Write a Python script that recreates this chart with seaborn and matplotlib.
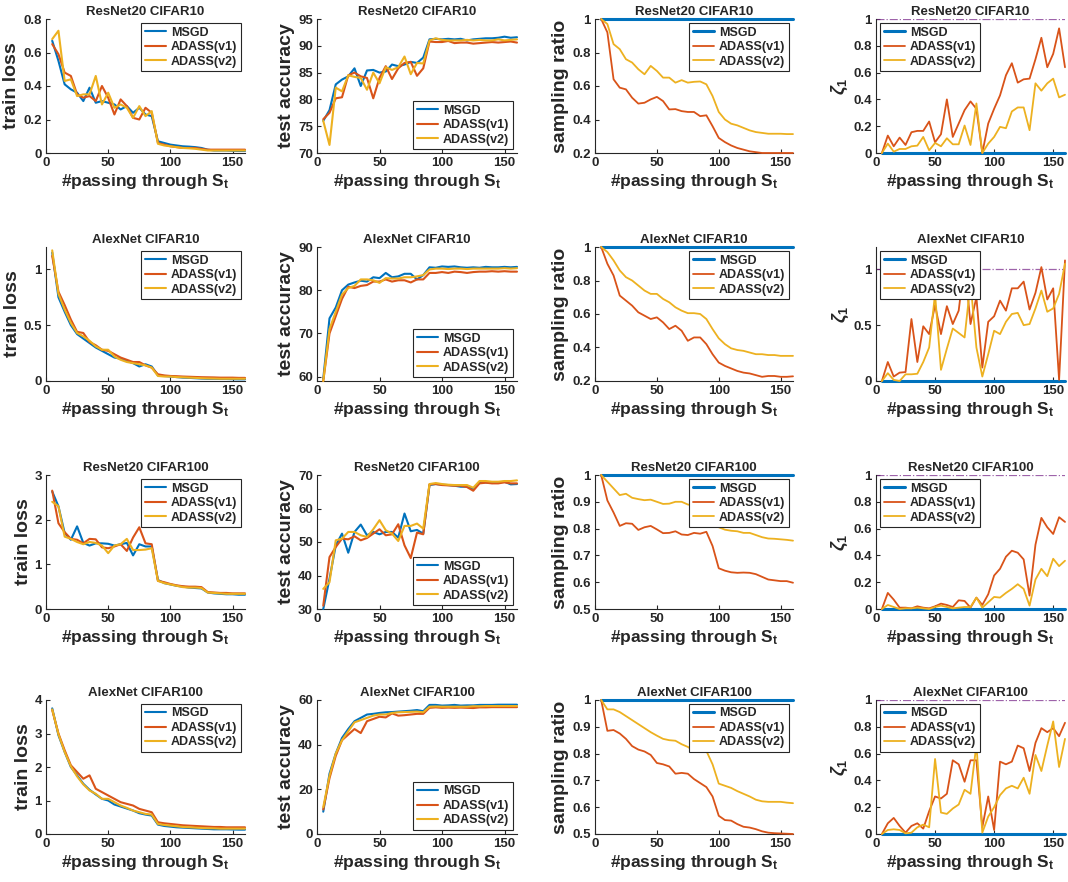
import pandas as pd
import seaborn as sns
from matplotlib import pyplot as plt
from matplotlib.ticker import FuncFormatter

# passes through S_t (x axis of every panel)
passes = list(range(5, 165, 5))

methods = ['MSGD', 'ADASS(v1)', 'ADASS(v2)']
colors = ['#0072BD', '#D95319', '#EDB120']
titles = ['ResNet20 CIFAR10', 'AlexNet CIFAR10', 'ResNet20 CIFAR100', 'AlexNet CIFAR100']
ylabels = ['train loss', 'test accuracy', 'sampling ratio', r'$\zeta_1$']
zeta_ref = 1.0

# ---- ResNet20 CIFAR10 ----
r20c10_loss_msgd = [0.67, 0.55, 0.41, 0.38, 0.36, 0.31, 0.39, 0.30, 0.31, 0.30, 0.29, 0.26, 0.28, 0.24, 0.27, 0.23,
                    0.22, 0.07, 0.06, 0.05, 0.045, 0.04, 0.038, 0.035, 0.03, 0.02, 0.015, 0.015, 0.015, 0.013, 0.012, 0.012]
r20c10_loss_v1 = [0.65, 0.59, 0.48, 0.46, 0.35, 0.33, 0.34, 0.31, 0.40, 0.33, 0.23, 0.32, 0.28, 0.21, 0.20, 0.27,
                  0.24, 0.06, 0.05, 0.04, 0.035, 0.03, 0.03, 0.03, 0.025, 0.02, 0.02, 0.02, 0.02, 0.02, 0.02, 0.02]
r20c10_loss_v2 = [0.68, 0.73, 0.43, 0.44, 0.34, 0.35, 0.35, 0.46, 0.29, 0.36, 0.27, 0.29, 0.27, 0.21, 0.28, 0.22,
                  0.25, 0.055, 0.045, 0.04, 0.035, 0.03, 0.028, 0.025, 0.02, 0.015, 0.015, 0.015, 0.015, 0.015, 0.015, 0.015]
r20c10_acc_msgd = [76.0, 78.0, 82.8, 83.7, 84.3, 85.8, 82.5, 85.4, 85.5, 85.0, 85.2, 86.5, 86.2, 86.5, 87.0, 86.8,
                   87.8, 91.2, 91.3, 91.2, 91.3, 91.2, 91.3, 91.0, 91.2, 91.3, 91.4, 91.4, 91.5, 91.7, 91.5, 91.6]
r20c10_acc_v1 = [76.3, 77.5, 80.2, 80.4, 84.5, 85.0, 84.3, 84.0, 80.2, 84.0, 86.2, 83.8, 85.8, 86.8, 87.0, 84.4,
                 85.8, 90.8, 90.7, 90.7, 90.9, 90.5, 90.6, 90.6, 90.4, 90.5, 90.6, 90.7, 90.6, 90.7, 90.8, 90.6]
r20c10_acc_v2 = [76.0, 71.5, 82.2, 81.5, 84.5, 84.2, 84.0, 81.8, 85.0, 83.0, 86.0, 85.5, 86.0, 88.0, 84.7, 86.8,
                 86.7, 91.0, 91.4, 91.1, 91.0, 91.0, 91.0, 91.1, 91.0, 91.1, 91.0, 91.0, 91.2, 91.0, 91.1, 91.2]
r20c10_ratio_msgd = [1.0] * 32
r20c10_ratio_v1 = [1.0, 0.92, 0.64, 0.59, 0.58, 0.53, 0.495, 0.50, 0.52, 0.535, 0.51, 0.46, 0.462, 0.45, 0.445, 0.445,
                   0.42, 0.425, 0.36, 0.29, 0.265, 0.245, 0.23, 0.22, 0.21, 0.205, 0.2, 0.2, 0.2, 0.2, 0.2, 0.2]
r20c10_ratio_v2 = [1.0, 0.97, 0.85, 0.82, 0.76, 0.74, 0.70, 0.67, 0.72, 0.69, 0.65, 0.65, 0.62, 0.635, 0.62, 0.625,
                   0.627, 0.61, 0.54, 0.445, 0.40, 0.375, 0.365, 0.35, 0.335, 0.325, 0.32, 0.315, 0.315, 0.315, 0.313, 0.313]
r20c10_zeta_msgd = [0.0] * 32
r20c10_zeta_v1 = [0.0, 0.13, 0.05, 0.115, 0.06, 0.155, 0.165, 0.165, 0.235, 0.08, 0.14, 0.40, 0.12, 0.22, 0.32, 0.385,
                  0.33, 0.0, 0.22, 0.33, 0.43, 0.58, 0.67, 0.525, 0.55, 0.555, 0.70, 0.86, 0.64, 0.74, 0.93, 0.64]
r20c10_zeta_v2 = [0.0, 0.07, 0.01, 0.03, 0.03, 0.05, 0.055, 0.12, 0.02, 0.075, 0.05, 0.11, 0.065, 0.065, 0.205, 0.06,
                  0.37, 0.0, 0.07, 0.12, 0.195, 0.185, 0.31, 0.34, 0.34, 0.17, 0.52, 0.465, 0.52, 0.555, 0.415, 0.435]

# ---- AlexNet CIFAR10 ----
ax10_loss_msgd = [1.15, 0.75, 0.62, 0.50, 0.42, 0.38, 0.34, 0.30, 0.27, 0.24, 0.21, 0.20, 0.18, 0.16, 0.13, 0.15,
                  0.13, 0.05, 0.045, 0.04, 0.035, 0.03, 0.028, 0.025, 0.022, 0.02, 0.02, 0.018, 0.018, 0.016, 0.015, 0.015]
ax10_loss_v1 = [1.12, 0.80, 0.68, 0.55, 0.44, 0.43, 0.35, 0.32, 0.28, 0.27, 0.24, 0.21, 0.19, 0.17, 0.17, 0.14,
                0.12, 0.06, 0.05, 0.045, 0.043, 0.04, 0.038, 0.036, 0.034, 0.033, 0.032, 0.03, 0.03, 0.03, 0.028, 0.028]
ax10_loss_v2 = [1.17, 0.78, 0.64, 0.52, 0.43, 0.40, 0.36, 0.31, 0.28, 0.28, 0.22, 0.19, 0.17, 0.16, 0.15, 0.14,
                0.12, 0.045, 0.04, 0.04, 0.035, 0.033, 0.03, 0.028, 0.025, 0.023, 0.022, 0.02, 0.02, 0.02, 0.02, 0.02]
ax10_acc_msgd = [59.5, 73.5, 76.0, 80.0, 81.3, 81.8, 82.2, 82.0, 83.0, 82.8, 84.0, 83.0, 83.2, 83.8, 83.8, 82.5,
                 83.5, 85.3, 85.2, 85.5, 85.4, 85.5, 85.3, 85.2, 85.3, 85.2, 85.4, 85.3, 85.3, 85.4, 85.3, 85.4]
ax10_acc_v1 = [59.0, 70.0, 74.0, 78.0, 80.8, 80.5, 81.0, 81.2, 82.0, 82.0, 82.5, 82.0, 82.3, 82.3, 81.8, 82.5,
               82.5, 84.0, 84.0, 84.2, 84.0, 84.3, 84.2, 84.0, 84.2, 84.3, 84.3, 84.4, 84.3, 84.4, 84.3, 84.3]
ax10_acc_v2 = [59.0, 71.0, 75.0, 79.0, 80.5, 81.0, 82.5, 82.5, 82.3, 81.7, 82.8, 82.7, 82.7, 83.0, 83.0, 83.2,
               83.5, 84.8, 85.0, 85.0, 84.9, 85.0, 85.0, 84.9, 85.0, 85.0, 85.0, 85.0, 85.0, 85.1, 85.0, 85.1]
ax10_ratio_msgd = [1.0] * 32
ax10_ratio_v1 = [1.0, 0.90, 0.83, 0.71, 0.68, 0.65, 0.61, 0.59, 0.57, 0.58, 0.55, 0.51, 0.53, 0.50, 0.44, 0.46,
                 0.46, 0.42, 0.36, 0.31, 0.29, 0.275, 0.26, 0.25, 0.245, 0.235, 0.225, 0.23, 0.23, 0.225, 0.225, 0.228]
ax10_ratio_v2 = [1.0, 0.97, 0.92, 0.86, 0.82, 0.80, 0.77, 0.74, 0.72, 0.72, 0.69, 0.67, 0.64, 0.62, 0.605, 0.605,
                 0.60, 0.57, 0.51, 0.455, 0.42, 0.395, 0.385, 0.38, 0.37, 0.36, 0.36, 0.355, 0.355, 0.35, 0.35, 0.35]
ax10_zeta_msgd = [0.0] * 32
ax10_zeta_v1 = [0.0, 0.17, 0.04, 0.075, 0.08, 0.555, 0.17, 0.49, 0.42, 0.68, 0.42, 0.67, 0.51, 0.63, 1.07, 0.51,
                0.75, 0.12, 0.53, 0.58, 0.72, 0.63, 0.83, 0.83, 0.89, 0.64, 0.79, 1.02, 0.73, 0.83, 0.01, 1.08]
ax10_zeta_v2 = [0.0, 0.07, 0.01, 0.0, 0.06, 0.06, 0.065, 0.17, 0.30, 0.78, 0.10, 0.29, 0.47, 0.43, 0.39, 0.88,
                0.30, 0.04, 0.24, 0.45, 0.42, 0.53, 0.60, 0.61, 0.50, 0.51, 0.65, 0.81, 0.62, 0.65, 0.78, 1.05]

# ---- ResNet20 CIFAR100 ----
r20c100_loss_msgd = [2.63, 2.3, 1.7, 1.55, 1.85, 1.48, 1.42, 1.47, 1.47, 1.46, 1.42, 1.45, 1.48, 1.2, 1.45, 1.4,
                     1.4, 0.65, 0.58, 0.55, 0.52, 0.5, 0.48, 0.47, 0.46, 0.37, 0.35, 0.34, 0.33, 0.33, 0.32, 0.32]
r20c100_loss_v1 = [2.65, 1.92, 1.72, 1.57, 1.55, 1.47, 1.57, 1.56, 1.38, 1.36, 1.4, 1.45, 1.3, 1.6, 1.83, 1.47,
                   1.45, 0.63, 0.6, 0.56, 0.53, 0.51, 0.5, 0.5, 0.49, 0.38, 0.37, 0.36, 0.36, 0.35, 0.35, 0.35]
r20c100_loss_v2 = [2.4, 2.3, 1.62, 1.57, 1.5, 1.45, 1.5, 1.48, 1.42, 1.25, 1.42, 1.45, 1.57, 1.32, 1.32, 1.33,
                   1.36, 0.63, 0.58, 0.55, 0.52, 0.49, 0.48, 0.48, 0.47, 0.37, 0.36, 0.35, 0.34, 0.34, 0.34, 0.34]
r20c100_acc_msgd = [30.0, 39.0, 49.0, 52.5, 46.8, 53.0, 55.2, 52.0, 53.0, 52.3, 53.0, 53.0, 51.3, 58.5, 53.2, 53.6,
                    52.5, 67.0, 67.3, 67.1, 67.0, 66.8, 66.5, 66.5, 65.8, 67.8, 67.8, 67.6, 67.8, 68.0, 67.2, 67.3]
r20c100_acc_v1 = [31.0, 45.5, 48.5, 51.0, 50.8, 51.7, 50.5, 51.2, 52.5, 53.8, 52.0, 52.3, 55.3, 49.0, 45.2, 52.8,
                  52.3, 67.2, 67.3, 67.0, 66.9, 66.8, 66.8, 66.4, 65.3, 67.5, 67.7, 67.5, 67.5, 67.8, 67.5, 67.5]
r20c100_acc_v2 = [36.0, 38.0, 50.5, 51.0, 53.0, 53.0, 52.0, 51.5, 53.8, 56.5, 53.5, 52.5, 50.3, 54.8, 54.8, 55.5,
                  54.0, 67.3, 67.6, 67.3, 67.1, 67.0, 67.0, 67.0, 66.2, 68.2, 68.2, 68.0, 68.0, 68.2, 68.2, 68.4]
r20c100_ratio_msgd = [1.0] * 32
r20c100_ratio_v1 = [1.0, 0.905, 0.86, 0.81, 0.82, 0.818, 0.795, 0.805, 0.81, 0.797, 0.783, 0.784, 0.79, 0.778, 0.776, 0.784,
                    0.781, 0.788, 0.735, 0.652, 0.643, 0.637, 0.635, 0.636, 0.635, 0.63, 0.62, 0.61, 0.607, 0.604, 0.604, 0.598]
r20c100_ratio_v2 = [1.0, 0.975, 0.95, 0.925, 0.93, 0.915, 0.91, 0.906, 0.908, 0.9, 0.892, 0.893, 0.9, 0.9, 0.89, 0.885,
                    0.895, 0.896, 0.86, 0.805, 0.796, 0.792, 0.79, 0.784, 0.784, 0.776, 0.768, 0.763, 0.762, 0.76, 0.758, 0.755]
r20c100_zeta_msgd = [0.0] * 32
r20c100_zeta_v1 = [0.0, 0.12, 0.07, 0.01, 0.01, 0.005, 0.02, 0.01, 0.005, 0.02, 0.04, 0.03, 0.015, 0.065, 0.06, 0.01,
                   0.085, 0.03, 0.11, 0.25, 0.3, 0.39, 0.435, 0.42, 0.37, 0.10, 0.48, 0.68, 0.61, 0.56, 0.685, 0.65]
r20c100_zeta_v2 = [0.0, 0.03, 0.015, 0.0, 0.005, 0.005, 0.01, 0.005, 0.0, 0.015, 0.025, 0.015, 0.005, 0.01, 0.015, 0.015,
                   0.085, 0.01, 0.05, 0.09, 0.085, 0.12, 0.15, 0.185, 0.15, 0.025, 0.22, 0.30, 0.245, 0.375, 0.32, 0.36]

# ---- AlexNet CIFAR100 ----
ax100_loss_msgd = [3.75, 2.95, 2.45, 2.0, 1.75, 1.5, 1.32, 1.18, 1.05, 1.0, 0.88, 0.82, 0.76, 0.7, 0.62, 0.58,
                   0.55, 0.28, 0.24, 0.22, 0.2, 0.19, 0.18, 0.17, 0.16, 0.15, 0.14, 0.14, 0.14, 0.135, 0.13, 0.13]
ax100_loss_v1 = [3.7, 3.0, 2.5, 2.05, 1.85, 1.65, 1.75, 1.35, 1.25, 1.15, 1.05, 0.95, 0.9, 0.85, 0.75, 0.7,
                 0.65, 0.35, 0.32, 0.3, 0.28, 0.26, 0.25, 0.24, 0.23, 0.22, 0.21, 0.21, 0.2, 0.2, 0.2, 0.2]
ax100_loss_v2 = [3.72, 2.98, 2.45, 2.02, 1.72, 1.48, 1.3, 1.2, 1.05, 1.05, 0.95, 0.85, 0.78, 0.7, 0.65, 0.6,
                 0.58, 0.3, 0.27, 0.25, 0.23, 0.21, 0.2, 0.19, 0.18, 0.17, 0.17, 0.16, 0.16, 0.16, 0.16, 0.16]
ax100_acc_msgd = [10.0, 27.0, 36.0, 43.0, 47.0, 50.5, 52.0, 53.5, 53.8, 54.2, 54.5, 54.6, 54.8, 55.0, 55.2, 55.5,
                  55.0, 57.8, 57.8, 57.5, 57.6, 57.8, 57.5, 57.6, 57.6, 57.8, 57.8, 57.8, 57.9, 57.9, 57.9, 57.9]
ax100_acc_v1 = [11.0, 25.0, 35.0, 42.0, 44.5, 47.0, 45.2, 50.5, 51.5, 52.5, 52.2, 54.0, 53.0, 53.2, 53.5, 53.8,
                53.8, 56.5, 56.7, 56.5, 56.6, 56.5, 56.6, 56.5, 56.4, 56.7, 56.7, 56.8, 56.8, 56.8, 56.8, 56.8]
ax100_acc_v2 = [12.0, 26.0, 36.0, 42.0, 46.0, 50.0, 51.0, 52.0, 53.0, 53.5, 53.5, 54.2, 54.5, 54.6, 54.7, 54.8,
                54.5, 57.0, 57.1, 57.0, 57.0, 57.0, 57.0, 57.0, 57.2, 57.2, 57.3, 57.3, 57.3, 57.3, 57.3, 57.3]
ax100_ratio_msgd = [1.0] * 32
ax100_ratio_v1 = [1.0, 0.885, 0.888, 0.875, 0.855, 0.828, 0.815, 0.808, 0.795, 0.765, 0.76, 0.752, 0.725, 0.728, 0.725, 0.705,
                  0.69, 0.675, 0.64, 0.568, 0.552, 0.55, 0.537, 0.527, 0.524, 0.518, 0.51, 0.505, 0.503, 0.502, 0.501, 0.5]
ax100_ratio_v2 = [1.0, 0.965, 0.965, 0.955, 0.94, 0.925, 0.91, 0.895, 0.88, 0.867, 0.855, 0.85, 0.848, 0.835, 0.825, 0.81,
                  0.808, 0.81, 0.76, 0.688, 0.68, 0.672, 0.66, 0.65, 0.64, 0.628, 0.622, 0.62, 0.62, 0.62, 0.617, 0.615]
ax100_zeta_msgd = [0.0] * 32
ax100_zeta_v1 = [0.0, 0.08, 0.12, 0.06, 0.01, 0.06, 0.08, 0.04, 0.17, 0.28, 0.265, 0.30, 0.55, 0.52, 0.39, 0.55,
                 0.55, 0.05, 0.28, 0.03, 0.54, 0.52, 0.54, 0.66, 0.64, 0.47, 0.68, 0.79, 0.76, 0.79, 0.73, 0.83]
ax100_zeta_v2 = [0.0, 0.03, 0.035, 0.03, 0.005, 0.01, 0.05, 0.07, 0.05, 0.56, 0.16, 0.15, 0.19, 0.22, 0.33, 0.30,
                 0.67, 0.01, 0.13, 0.20, 0.29, 0.34, 0.36, 0.34, 0.42, 0.30, 0.59, 0.47, 0.66, 0.84, 0.50, 0.71]

grid = [
    [(r20c10_loss_msgd, r20c10_loss_v1, r20c10_loss_v2), (r20c10_acc_msgd, r20c10_acc_v1, r20c10_acc_v2),
     (r20c10_ratio_msgd, r20c10_ratio_v1, r20c10_ratio_v2), (r20c10_zeta_msgd, r20c10_zeta_v1, r20c10_zeta_v2)],
    [(ax10_loss_msgd, ax10_loss_v1, ax10_loss_v2), (ax10_acc_msgd, ax10_acc_v1, ax10_acc_v2),
     (ax10_ratio_msgd, ax10_ratio_v1, ax10_ratio_v2), (ax10_zeta_msgd, ax10_zeta_v1, ax10_zeta_v2)],
    [(r20c100_loss_msgd, r20c100_loss_v1, r20c100_loss_v2), (r20c100_acc_msgd, r20c100_acc_v1, r20c100_acc_v2),
     (r20c100_ratio_msgd, r20c100_ratio_v1, r20c100_ratio_v2), (r20c100_zeta_msgd, r20c100_zeta_v1, r20c100_zeta_v2)],
    [(ax100_loss_msgd, ax100_loss_v1, ax100_loss_v2), (ax100_acc_msgd, ax100_acc_v1, ax100_acc_v2),
     (ax100_ratio_msgd, ax100_ratio_v1, ax100_ratio_v2), (ax100_zeta_msgd, ax100_zeta_v1, ax100_zeta_v2)],
]

# y limits / ticks per row, per column
ylims = [
    [(0, 0.8), (70, 95), (0.2, 1), (0, 1)],
    [(0, 1.2), (59, 90), (0.2, 1), (0, 1.2)],
    [(0, 3), (30, 70), (0.5, 1), (0, 1)],
    [(0, 4), (0, 60), (0.5, 1), (0, 1)],
]
yticks = [
    [[0, 0.2, 0.4, 0.6, 0.8], [70, 75, 80, 85, 90, 95], [0.2, 0.4, 0.6, 0.8, 1], [0, 0.2, 0.4, 0.6, 0.8, 1]],
    [[0, 0.5, 1], [60, 70, 80, 90], [0.2, 0.4, 0.6, 0.8, 1], [0, 0.5, 1]],
    [[0, 1, 2, 3], [30, 40, 50, 60, 70], [0.5, 0.6, 0.7, 0.8, 0.9, 1], [0, 0.2, 0.4, 0.6, 0.8, 1]],
    [[0, 1, 2, 3, 4], [0, 20, 40, 60], [0.5, 0.6, 0.7, 0.8, 0.9, 1], [0, 0.2, 0.4, 0.6, 0.8, 1]],
]
legend_locs = ['upper right', 'lower right', 'upper right', 'upper left']

sns.set_style('ticks')
plt.rcParams['font.family'] = ['Liberation Sans', 'DejaVu Sans']
plt.rcParams['font.weight'] = 'bold'
plt.rcParams['axes.labelweight'] = 'bold'
plt.rcParams['axes.titleweight'] = 'bold'
plt.rcParams['mathtext.fontset'] = 'custom'
plt.rcParams['mathtext.rm'] = 'Liberation Sans'
plt.rcParams['mathtext.it'] = 'Liberation Sans:italic'
plt.rcParams['mathtext.bf'] = 'Liberation Sans:bold'

W, H = 1068, 882
fig = plt.figure(figsize=(W / 100, H / 100), dpi=100)

lefts = [46, 317, 595, 876]
widths = [199, 200, 198, 189]
tops = [19, 247, 475, 700]
height = 134
axis_col = '#262626'

for r in range(4):
    for c in range(4):
        ax = fig.add_axes([lefts[c] / W, 1 - (tops[r] + height) / H, widths[c] / W, height / H])
        series = grid[r][c]
        df = pd.DataFrame({'pass': passes * 3,
                           'value': [v for s in series for v in s],
                           'method': [m for m in methods for _ in passes]})
        if c == 3:
            ax.axhline(zeta_ref, color='#7E2F8E', ls='-.', lw=0.9, alpha=0.75, zorder=1)
        for m, col in zip(methods, colors):
            lw = 1.5
            if c >= 2 and m == 'MSGD':
                lw = 2.2
            elif c >= 2:
                lw = 1.3
            sns.lineplot(data=df[df['method'] == m], x='pass', y='value', color=col,
                         linewidth=lw, label=m, ax=ax, clip_on=False, zorder=3)

        ax.set_xlim(0, 160)
        ax.set_xticks([0, 50, 100, 150])
        ax.set_ylim(*ylims[r][c])
        ax.set_yticks(yticks[r][c])
        ax.yaxis.set_major_formatter(FuncFormatter(lambda v, p: f'{v:g}'))
        ax.set_title(titles[r], fontsize=9.5, pad=3)
        ax.set_xlabel('#passing through S$_\\mathbf{t}$', fontsize=12.5, labelpad=2)
        ax.set_ylabel(ylabels[c], fontsize=14 if c < 3 else 13, labelpad=2)
        ax.tick_params(direction='in', length=3, width=0.8, labelsize=9.5, colors=axis_col, pad=3)
        for lab in ax.get_xticklabels() + ax.get_yticklabels():
            lab.set_fontweight('bold')
        for side in ['top', 'right']:
            ax.spines[side].set_visible(False)
        for side in ['left', 'bottom']:
            ax.spines[side].set_color(axis_col)
            ax.spines[side].set_linewidth(0.8)

        leg = ax.legend(loc=legend_locs[c], prop={'weight': 'bold', 'size': 9}, frameon=True,
                        fancybox=False, edgecolor=axis_col, framealpha=1, borderpad=0.3,
                        labelspacing=0.2, handlelength=1.7, handletextpad=0.4, borderaxespad=0.3)
        leg.get_frame().set_linewidth(0.8)
        leg.set_zorder(5)

fig.savefig('out.png', dpi=100)
